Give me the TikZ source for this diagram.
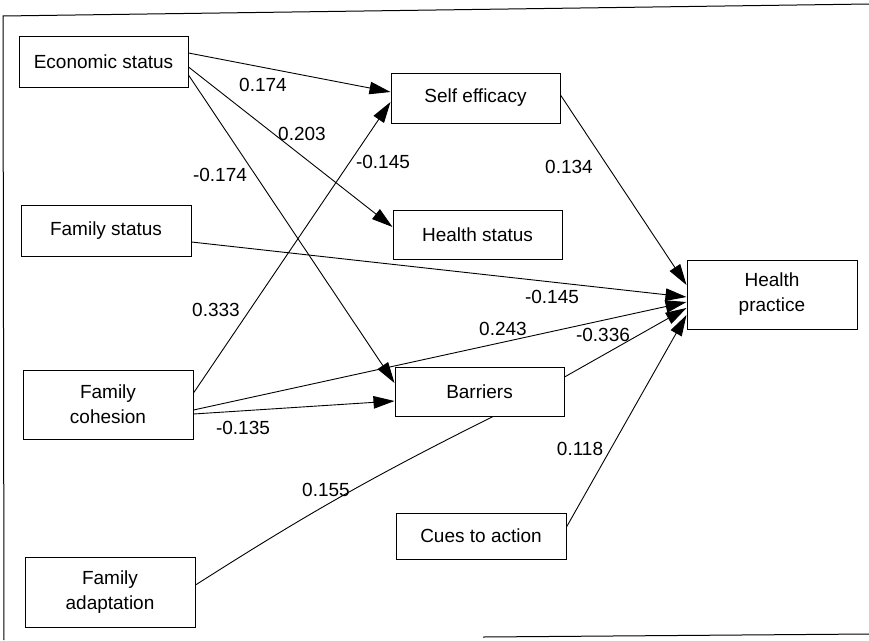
\documentclass[tikz,border=0pt]{standalone}
\usepackage{fontspec}
\setmainfont{Liberation Sans}
\usetikzlibrary{arrows.meta}
\begin{document}
\begin{tikzpicture}[x=1pt,y=-1pt,
  box/.style={draw, line width=1pt, inner sep=0pt, align=center,
    font=\fontsize{19}{25}\selectfont},
  lbl/.style={inner sep=0pt, font=\fontsize{19}{22}\selectfont},
  path/.style={line width=0.9pt, -{Triangle[length=21pt,width=12.5pt]}},
  plain/.style={line width=0.9pt}]
\useasboundingbox (0,0) rectangle (869,640);
% frame
\coordinate (ftl) at (3,16);
\coordinate (ftr) at (869,4);
\coordinate (fbl) at (4,640);
\coordinate (fbs) at (483,637);
\coordinate (fbr) at (869,634);
\draw[line width=1pt] (fbl) -- (ftl) -- (ftr);
\draw[line width=1pt] (fbs) -- (fbr);
% nodes
\node[box, minimum width=169pt, minimum height=51pt] (econ) at (103.5,61.5) {Economic status};
\node[box, minimum width=170pt, minimum height=51pt] (famstat) at (106,230.5) {Family status};
\node[box, minimum width=170pt, minimum height=69pt] (cohesion) at (108,404.5) {Family\\cohesion};
\node[box, minimum width=170pt, minimum height=70pt] (adapt) at (110,592) {Family\\adaptation};
\node[box, minimum width=169pt, minimum height=50pt] (self) at (475.5,98) {Self efficacy};
\node[box, minimum width=169pt, minimum height=49pt] (hstatus) at (477.5,234.5) {Health status};
\node[box, minimum width=169pt, minimum height=49pt] (barriers) at (479.5,391.5) {Barriers};
\node[box, minimum width=170pt, minimum height=46pt] (cues) at (481,536) {Cues to action};
\node[box, minimum width=170pt, minimum height=69pt] (practice) at (772,294.5) {Health\\practice};
% connectors
\draw[path] ([yshift=8.5pt]econ.east) -- ([yshift=6pt]self.west);
\draw[path] ([yshift=-5.5pt]econ.east) -- ([yshift=7.5pt]hstatus.west);
\draw[path] ([yshift=-13.5pt]econ.east) -- ([yshift=8.5pt]barriers.west);
\draw[path] ([yshift=-11.5pt]famstat.east) -- ([yshift=-2.5pt]practice.west);
\draw[path] ([yshift=11.5pt]cohesion.east) -- ([yshift=-4pt]self.west);
\draw[path] ([yshift=-5.5pt]cohesion.east) -- ([yshift=-7.5pt]practice.west);
\draw[path] ([yshift=-9.5pt]cohesion.east) -- ([yshift=-9.5pt]barriers.west);
\draw[plain] ([yshift=7pt]adapt.east) to[bend left=3] ([xshift=13.5pt]barriers.south);
\draw[path] ([yshift=14.5pt]barriers.east) -- ([yshift=-13.5pt]practice.west);
\draw[path] ([yshift=3pt]self.east) -- ([yshift=9.5pt]practice.west);
\draw[path] ([yshift=9pt]cues.east) -- ([yshift=-20.5pt]practice.west);
% labels
\node[lbl] (l1) at (263,85) {0.174};
\node[lbl] (l2) at (302,134) {0.203};
\node[lbl] (l3) at (220,175) {-0.174};
\node[lbl] (l4) at (383,162) {-0.145};
\node[lbl] (l5) at (569,167) {0.134};
\node[lbl] (l6) at (552,297) {-0.145};
\node[lbl] (l7) at (216,310) {0.333};
\node[lbl] (l8) at (503,329) {0.243};
\node[lbl] (l9) at (603,335) {-0.336};
\node[lbl] (l10) at (243,428) {-0.135};
\node[lbl] (l11) at (326,490) {0.155};
\node[lbl] (l12) at (580,449) {0.118};
\end{tikzpicture}
\end{document}
